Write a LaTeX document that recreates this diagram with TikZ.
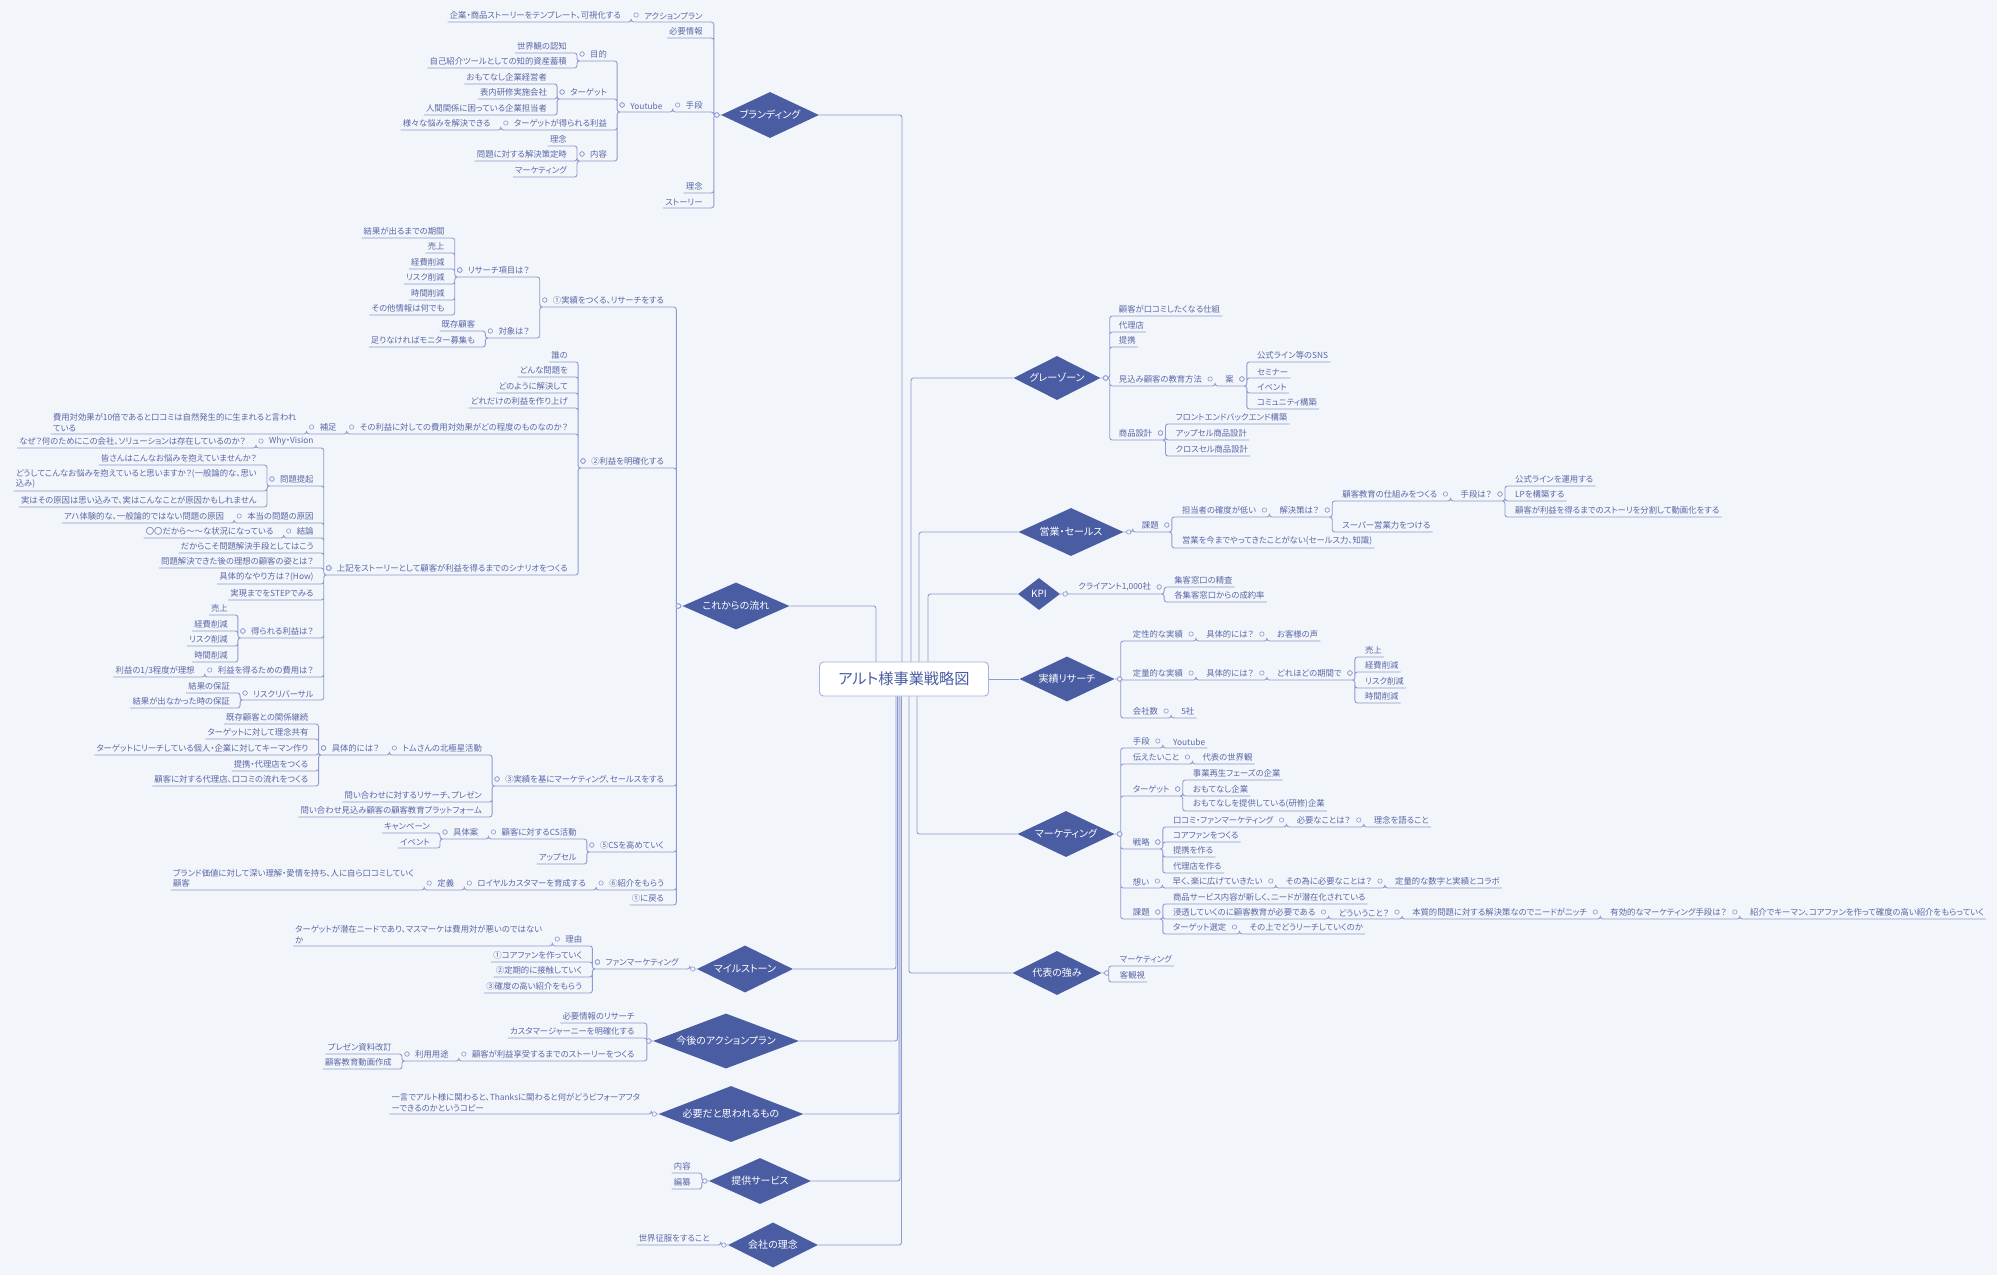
\documentclass[tikz,border=0pt]{standalone}
\usepackage{fontspec}
\setmainfont{Noto Sans CJK JP}[RawFeature={+palt}]
\usepackage{tikz}
\usetikzlibrary{calc,shapes.geometric}
\definecolor{linex}{HTML}{8E9BD2}
\definecolor{deepx}{HTML}{4A5DA3}
\definecolor{textx}{HTML}{5A68A8}
\definecolor{framex}{HTML}{A7B3DE}
\definecolor{softbg}{HTML}{F2F5FA}
\newcommand\nodefont{\fontsize{8.35}{10.3}\selectfont}
\newcommand\topicfont{\fontsize{10}{11.5}\selectfont}
\newcommand\headfont{\fontsize{15.2}{17}\selectfont}
\tikzset{
  ln/.style={draw=linex,line width=0.9pt,rounded corners=2.5pt},
  tx/.style={font=\nodefont,text=textx,inner xsep=2pt,inner ysep=2.3pt,align=left},
  lt/.style={tx,anchor=south east},
  rt/.style={tx,anchor=south west},
  lc/.style={lt,xshift=-19pt},
  rc/.style={rt,xshift=19pt},
  dlc/.style={lt,xshift=-16pt},
  drc/.style={rt,xshift=16pt},
  dm/.style 2 args={diamond,aspect=3,fill=deepx,text=white,font=\topicfont,inner sep=0pt,minimum width=#1,minimum height=#2},
  ttlbox/.style={draw=framex,line width=0.9pt,rounded corners=4pt,fill=white,text=deepx,font=\headfont,minimum width=169pt,minimum height=34pt},
  mk/.style={circle,draw=linex,fill=softbg,line width=0.6pt,inner sep=0pt,minimum size=4.4pt},
  lk/.style={to path={(\tikztostart) node[mk,xshift=-6pt,yshift=7pt]{} -- ++(-#1,0) |- (\tikztotarget)}},
  lk/.default=11,
  rk/.style={to path={(\tikztostart) node[mk,xshift=6pt,yshift=7pt]{} -- ++(#1,0) |- (\tikztotarget)}},
  rk/.default=11,
  dl/.style={to path={(\tikztostart) node[mk,xshift=-4pt]{} -- ++(-#1,0) |- (\tikztotarget)}},
  dl/.default=7,
  dr/.style={to path={(\tikztostart) node[mk,xshift=5pt]{} -- ++(#1,0) |- (\tikztotarget)}},
  dr/.default=9
}
\begin{document}
\begin{tikzpicture}[x=1pt,y=-1pt]
\fill[softbg] (0,0) rectangle (1997,1275);
\useasboundingbox (0,0) rectangle (1997,1275);

% centre and main topics
\node[ttlbox] (ttl) at (904,679) {アルト様事業戦略図};
\node[dm={98pt}{46pt}] (brand) at (770,115) {ブランディング};
\node[dm={107pt}{47pt}] (flow) at (736,606) {これからの流れ};
\node[dm={96pt}{47pt}] (mile) at (745,969) {マイルストーン};
\node[dm={146pt}{55pt}] (plan) at (726,1041) {今後のアクションプラン};
\node[dm={145pt}{56pt}] (need) at (731,1114) {必要だと思われるもの};
\node[dm={102pt}{46pt}] (serv) at (760,1181) {提供サービス};
\node[dm={90pt}{45pt}] (phil) at (773,1245) {会社の理念};
\node[dm={87pt}{44pt}] (gray) at (1057,378) {グレーゾーン};
\node[dm={105pt}{48pt}] (sales) at (1071,532) {営業・セールス};
\node[dm={42pt}{32pt}] (kpi) at (1039,594) {KPI};
\node[dm={95pt}{45pt}] (proof) at (1067,679) {実績リサーチ};
\node[dm={97pt}{46pt}] (mkt) at (1066,834) {マーケティング};
\node[dm={89pt}{44pt}] (rep) at (1057,973) {代表の強み};

\draw[ln] (brand.east) -| (ttl.north -| 902,0);
\draw[ln] (flow.east) -| (ttl.north -| 876,0);
\draw[ln] (gray.west) -| (ttl.north -| 911,0);
\draw[ln] (sales.west) -| (ttl.north -| 919,0);
\draw[ln] (kpi.west) -| (ttl.north -| 928,0);
\draw[ln] (ttl.east) -- (proof.west);
\draw[ln] (mkt.west) -| (ttl.south -| 917,0);
\draw[ln] (rep.west) -| (ttl.south -| 909,0);
\draw[ln] (mile.east) -| (ttl.south -| 896,0);
\draw[ln] (plan.east) -| (ttl.south -| 897.5,0);
\draw[ln] (need.east) -| (ttl.south -| 899,0);
\draw[ln] (serv.east) -| (ttl.south -| 900,0);
\draw[ln] (phil.east) -| (ttl.south -| 901.5,0);

% branding
\node[dlc] (bAct) at (brand.west |- 0,22) {アクションプラン};
\node[lc] (bActA) at (bAct.south west) {企業・商品ストーリーをテンプレート、可視化する};
\node[dlc] (bInfo) at (brand.west |- 0,38) {必要情報};
\node[dlc] (bWay) at (brand.west |- 0,112) {手段};
\node[lc] (bYt) at (bWay.south west) {Youtube};
\node[lc] (bAim) at (bYt.south west |- 0,61) {目的};
\node[lc] (bAimA) at (bAim.south west |- 0,53) {世界観の認知};
\node[lc] (bAimB) at (bAim.south west |- 0,68) {自己紹介ツールとしての知的資産蓄積};
\node[lc] (bTgt) at (bYt.south west |- 0,99) {ターゲット};
\node[lc] (bTgtA) at (bTgt.south west |- 0,84) {おもてなし企業経営者};
\node[lc] (bTgtB) at (bTgt.south west |- 0,99) {表内研修実施会社};
\node[lc] (bTgtC) at (bTgt.south west |- 0,115) {人間関係に困っている企業担当者};
\node[lc] (bGain) at (bYt.south west |- 0,130) {ターゲットが得られる利益};
\node[lc] (bGainA) at (bGain.south west) {様々な悩みを解決できる};
\node[lc] (bCnt) at (bYt.south west |- 0,161) {内容};
\node[lc] (bCntA) at (bCnt.south west |- 0,146) {理念};
\node[lc] (bCntB) at (bCnt.south west |- 0,161) {問題に対する解決策定時};
\node[lc] (bCntC) at (bCnt.south west |- 0,177) {マーケティング};
\node[dlc] (bIdea) at (brand.west |- 0,193) {理念};
\node[dlc] (bStory) at (brand.west |- 0,208) {ストーリー};
\draw[ln] (brand.west) to[dl] (bAct.south west) (brand.west) to[dl] (bInfo.south west)
  (brand.west) to[dl] (bWay.south west) (brand.west) to[dl] (bIdea.south west)
  (brand.west) to[dl] (bStory.south west);
\draw[ln] (bAct.south west) to[lk] (bActA.south west);
\draw[ln] (bWay.south west) to[lk] (bYt.south west);
\draw[ln] (bYt.south west) to[lk] (bAim.south west) (bYt.south west) to[lk] (bTgt.south west)
  (bYt.south west) to[lk] (bGain.south west) (bYt.south west) to[lk] (bCnt.south west);
\draw[ln] (bAim.south west) to[lk] (bAimA.south west) (bAim.south west) to[lk] (bAimB.south west);
\draw[ln] (bTgt.south west) to[lk] (bTgtA.south west) (bTgt.south west) to[lk] (bTgtB.south west)
  (bTgt.south west) to[lk] (bTgtC.south west);
\draw[ln] (bGain.south west) to[lk] (bGainA.south west);
\draw[ln] (bCnt.south west) to[lk] (bCntA.south west) (bCnt.south west) to[lk] (bCntB.south west)
  (bCnt.south west) to[lk] (bCntC.south west);

% flow
\node[dlc] (f1) at (flow.west |- 0,307) {①実績をつくる、リサーチをする};
\node[lc] (f1a) at (f1.south west |- 0,277) {リサーチ項目は？};
\node[lc] (f1a1) at (f1a.south west |- 0,238) {結果が出るまでの期間};
\node[lc] (f1a2) at (f1a.south west |- 0,253) {売上};
\node[lc] (f1a3) at (f1a.south west |- 0,269) {経費削減};
\node[lc] (f1a4) at (f1a.south west |- 0,284) {リスク削減};
\node[lc] (f1a5) at (f1a.south west |- 0,300) {時間削減};
\node[lc] (f1a6) at (f1a.south west |- 0,315) {その他情報は何でも};
\node[lc] (f1b) at (f1.south west |- 0,338) {対象は？};
\node[lc] (f1b1) at (f1b.south west |- 0,331) {既存顧客};
\node[lc] (f1b2) at (f1b.south west |- 0,347) {足りなければモニター募集も};
\node[dlc] (f2) at (flow.west |- 0,468) {②利益を明確化する};
\node[lc] (f2a) at (f2.south west |- 0,362) {誰の};
\node[lc] (f2b) at (f2.south west |- 0,377) {どんな問題を};
\node[lc] (f2c) at (f2.south west |- 0,393) {どのように解決して};
\node[lc] (f2d) at (f2.south west |- 0,408) {どれだけの利益を作り上げ};
\node[lc] (f2e) at (f2.south west |- 0,434) {その利益に対しての費用対効果がどの程度のものなのか？};
\node[lc] (f2e1) at (f2e.south west) {補足};
\node[lc] (f2e2) at (f2e1.south west) {費用対効果が10倍であると口コミは自然発生的に生まれると言われ\\ている};
\node[lc] (f2f) at (f2.south west |- 0,575) {上記をストーリーとして顧客が利益を得るまでのシナリオをつくる};
\node[lc] (s1) at (f2f.south west |- 0,448) {Why・Vision};
\node[lc] (s1a) at (s1.south west) {なぜ？何のためにこの会社、ソリューションは存在しているのか？};
\node[lc] (s2) at (f2f.south west |- 0,486) {問題提起};
\node[lc] (s2a) at (s2.south west |- 0,465) {皆さんはこんなお悩みを抱えていませんか？};
\node[lc] (s2b) at (s2.south west |- 0,491) {どうしてこんなお悩みを抱えていると思いますか？(一般論的な、思い\\込み)};
\node[lc] (s2c) at (s2.south west |- 0,507) {実はその原因は思い込みで、実はこんなことが原因かもしれません};
\node[lc] (s3) at (f2f.south west |- 0,523) {本当の問題の原因};
\node[lc] (s3a) at (s3.south west) {アハ体験的な、一般論的ではない問題の原因};
\node[lc] (s4) at (f2f.south west |- 0,538) {結論};
\node[lc] (s4a) at (s4.south west) {〇〇だから～～な状況になっている};
\node[lc] (s5) at (f2f.south west |- 0,553) {だからこそ問題解決手段としてはこう};
\node[lc] (s6) at (f2f.south west |- 0,568) {問題解決できた後の理想の顧客の姿とは？};
\node[lc] (s7) at (f2f.south west |- 0,584) {具体的なやり方は？(How)};
\node[lc] (s8) at (f2f.south west |- 0,600) {実現までをSTEPでみる};
\node[lc] (s9) at (f2f.south west |- 0,638) {得られる利益は？};
\node[lc] (s9a) at (s9.south west |- 0,615) {売上};
\node[lc] (s9b) at (s9.south west |- 0,631) {経費削減};
\node[lc] (s9c) at (s9.south west |- 0,646) {リスク削減};
\node[lc] (s9d) at (s9.south west |- 0,662) {時間削減};
\node[lc] (s10) at (f2f.south west |- 0,677) {利益を得るための費用は？};
\node[lc] (s10a) at (s10.south west) {利益の1/3程度が理想};
\node[lc] (s11) at (f2f.south west |- 0,700) {リスクリバーサル};
\node[lc] (s11a) at (s11.south west |- 0,693) {結果の保証};
\node[lc] (s11b) at (s11.south west |- 0,708) {結果が出なかった時の保証};
\node[dlc] (f3) at (flow.west |- 0,786) {③実績を基にマーケティング、セールスをする};
\node[lc] (f3a) at (f3.south west |- 0,755) {トムさんの北極星活動};
\node[lc] (f3b) at (f3a.south west) {具体的には？};
\node[lc] (f3b1) at (f3b.south west |- 0,724) {既存顧客との関係継続};
\node[lc] (f3b2) at (f3b.south west |- 0,739) {ターゲットに対して理念共有};
\node[lc] (f3b3) at (f3b.south west |- 0,755) {ターゲットにリーチしている個人・企業に対してキーマン作り};
\node[lc] (f3b4) at (f3b.south west |- 0,771) {提携・代理店をつくる};
\node[lc] (f3b5) at (f3b.south west |- 0,786) {顧客に対する代理店、口コミの流れをつくる};
\node[lc] (f3c) at (f3.south west |- 0,802) {問い合わせに対するリサーチ、プレゼン};
\node[lc] (f3d) at (f3.south west |- 0,817) {問い合わせ見込み顧客の顧客教育プラットフォーム};
\node[dlc] (f5) at (flow.west |- 0,852) {⑤CSを高めていく};
\node[lc] (f5a) at (f5.south west |- 0,839) {顧客に対するCS活動};
\node[lc] (f5b) at (f5a.south west) {具体案};
\node[lc] (f5b1) at (f5b.south west |- 0,833) {キャンペーン};
\node[lc] (f5b2) at (f5b.south west |- 0,848) {イベント};
\node[lc] (f5c) at (f5.south west |- 0,864) {アップセル};
\node[dlc] (f6) at (flow.west |- 0,890) {⑥紹介をもらう};
\node[lc] (f6a) at (f6.south west) {ロイヤルカスタマーを育成する};
\node[lc] (f6b) at (f6a.south west) {定義};
\node[lc] (f6c) at (f6b.south west) {ブランド価値に対して深い理解・愛情を持ち、人に自ら口コミしていく\\顧客};
\node[dlc] (f7) at (flow.west |- 0,905) {①に戻る};
\draw[ln] (flow.west) to[dl=6] (f1.south west) (flow.west) to[dl=6] (f2.south west)
  (flow.west) to[dl=6] (f3.south west) (flow.west) to[dl=6] (f5.south west)
  (flow.west) to[dl=6] (f6.south west) (flow.west) to[dl=6] (f7.south west);
\draw[ln] (f1.south west) to[lk] (f1a.south west) (f1.south west) to[lk] (f1b.south west);
\draw[ln] (f1a.south west) to[lk] (f1a1.south west) (f1a.south west) to[lk] (f1a2.south west)
  (f1a.south west) to[lk] (f1a3.south west) (f1a.south west) to[lk] (f1a4.south west)
  (f1a.south west) to[lk] (f1a5.south west) (f1a.south west) to[lk] (f1a6.south west);
\draw[ln] (f1b.south west) to[lk] (f1b1.south west) (f1b.south west) to[lk] (f1b2.south west);
\draw[ln] (f2.south west) to[lk] (f2a.south west) (f2.south west) to[lk] (f2b.south west)
  (f2.south west) to[lk] (f2c.south west) (f2.south west) to[lk] (f2d.south west)
  (f2.south west) to[lk] (f2e.south west) (f2.south west) to[lk] (f2f.south west);
\draw[ln] (f2e.south west) to[lk] (f2e1.south west);
\draw[ln] (f2e1.south west) to[lk] (f2e2.south west);
\draw[ln] (f2f.south west) to[lk] (s1.south west) (f2f.south west) to[lk] (s2.south west)
  (f2f.south west) to[lk] (s3.south west) (f2f.south west) to[lk] (s4.south west)
  (f2f.south west) to[lk] (s5.south west) (f2f.south west) to[lk] (s6.south west)
  (f2f.south west) to[lk] (s7.south west) (f2f.south west) to[lk] (s8.south west)
  (f2f.south west) to[lk] (s9.south west) (f2f.south west) to[lk] (s10.south west)
  (f2f.south west) to[lk] (s11.south west);
\draw[ln] (s1.south west) to[lk] (s1a.south west);
\draw[ln] (s2.south west) to[lk] (s2a.south west) (s2.south west) to[lk] (s2b.south west)
  (s2.south west) to[lk] (s2c.south west);
\draw[ln] (s3.south west) to[lk] (s3a.south west);
\draw[ln] (s4.south west) to[lk] (s4a.south west);
\draw[ln] (s9.south west) to[lk] (s9a.south west) (s9.south west) to[lk] (s9b.south west)
  (s9.south west) to[lk] (s9c.south west) (s9.south west) to[lk] (s9d.south west);
\draw[ln] (s10.south west) to[lk] (s10a.south west);
\draw[ln] (s11.south west) to[lk] (s11a.south west) (s11.south west) to[lk] (s11b.south west);
\draw[ln] (f3.south west) to[lk] (f3a.south west) (f3.south west) to[lk] (f3c.south west)
  (f3.south west) to[lk] (f3d.south west);
\draw[ln] (f3a.south west) to[lk] (f3b.south west);
\draw[ln] (f3b.south west) to[lk] (f3b1.south west) (f3b.south west) to[lk] (f3b2.south west)
  (f3b.south west) to[lk] (f3b3.south west) (f3b.south west) to[lk] (f3b4.south west)
  (f3b.south west) to[lk] (f3b5.south west);
\draw[ln] (f5.south west) to[lk] (f5a.south west) (f5.south west) to[lk] (f5c.south west);
\draw[ln] (f5a.south west) to[lk] (f5b.south west);
\draw[ln] (f5b.south west) to[lk] (f5b1.south west) (f5b.south west) to[lk] (f5b2.south west);
\draw[ln] (f6.south west) to[lk] (f6a.south west);
\draw[ln] (f6a.south west) to[lk] (f6b.south west);
\draw[ln] (f6b.south west) to[lk] (f6c.south west);

% milestone, action plan, needs, service, philosophy
\node[dlc] (m1) at (mile.west) {ファンマーケティング};
\node[lc] (m1a) at (m1.south west |- 0,946) {理由};
\node[lc] (m1a1) at (m1a.south west) {ターゲットが潜在ニードであり、マスマーケは費用対が悪いのではない\\か};
\node[lc] (m1b) at (m1.south west |- 0,962) {①コアファンを作っていく};
\node[lc] (m1c) at (m1.south west |- 0,977) {②定期的に接触していく};
\node[lc] (m1d) at (m1.south west |- 0,993) {③確度の高い紹介をもらう};
\draw[ln] (mile.west) to[dl] (m1.south west);
\draw[ln] (m1.south west) to[lk] (m1a.south west) (m1.south west) to[lk] (m1b.south west)
  (m1.south west) to[lk] (m1c.south west) (m1.south west) to[lk] (m1d.south west);
\draw[ln] (m1a.south west) to[lk] (m1a1.south west);

\node[dlc] (p1) at (plan.west |- 0,1023) {必要情報のリサーチ};
\node[dlc] (p2) at (plan.west |- 0,1038) {カスタマージャーニーを明確化する};
\node[dlc] (p3) at (plan.west |- 0,1061) {顧客が利益享受するまでのストーリーをつくる};
\node[lc] (p3a) at (p3.south west) {利用用途};
\node[lc] (p3a1) at (p3a.south west |- 0,1054) {プレゼン資料改訂};
\node[lc] (p3a2) at (p3a.south west |- 0,1069) {顧客教育動画作成};
\draw[ln] (plan.west) to[dl=6] (p1.south west) (plan.west) to[dl=6] (p2.south west)
  (plan.west) to[dl=6] (p3.south west);
\draw[ln] (p3.south west) to[lk] (p3a.south west);
\draw[ln] (p3a.south west) to[lk] (p3a1.south west) (p3a.south west) to[lk] (p3a2.south west);

\node[dlc] (n1) at (need.west) {一言でアルト様に関わると、Thanksに関わると何がどうビフォーアフタ\\ーできるのかというコピー};
\draw[ln] (need.west) to[dl] (n1.south west);

\node[dlc] (v1) at (serv.west |- 0,1173) {内容};
\node[dlc] (v2) at (serv.west |- 0,1189) {編纂};
\draw[ln] (serv.west) to[dl] (v1.south west) (serv.west) to[dl] (v2.south west);

\node[dlc] (c1) at (phil.west) {世界征服をすること};
\draw[ln] (phil.west) to[dl] (c1.south west);

% grey zone
\node[drc] (g1) at (gray.east |- 0,316) {顧客が口コミしたくなる仕組};
\node[drc] (g2) at (gray.east |- 0,332) {代理店};
\node[drc] (g3) at (gray.east |- 0,347) {提携};
\node[drc] (g4) at (gray.east |- 0,386) {見込み顧客の教育方法};
\node[rc] (g4a) at (g4.south east) {案};
\node[rc] (g4a1) at (g4a.south east |- 0,362) {公式ライン等のSNS};
\node[rc] (g4a2) at (g4a.south east |- 0,378) {セミナー};
\node[rc] (g4a3) at (g4a.south east |- 0,393) {イベント};
\node[rc] (g4a4) at (g4a.south east |- 0,409) {コミュニティ構築};
\node[drc] (g5) at (gray.east |- 0,440) {商品設計};
\node[rc] (g5a) at (g5.south east |- 0,424) {フロントエンドバックエンド構築};
\node[rc] (g5b) at (g5.south east |- 0,440) {アップセル商品設計};
\node[rc] (g5c) at (g5.south east |- 0,456) {クロスセル商品設計};
\draw[ln] (gray.east) to[dr] (g1.south east) (gray.east) to[dr] (g2.south east)
  (gray.east) to[dr] (g3.south east) (gray.east) to[dr] (g4.south east)
  (gray.east) to[dr] (g5.south east);
\draw[ln] (g4.south east) to[rk] (g4a.south east);
\draw[ln] (g4a.south east) to[rk] (g4a1.south east) (g4a.south east) to[rk] (g4a2.south east)
  (g4a.south east) to[rk] (g4a3.south east) (g4a.south east) to[rk] (g4a4.south east);
\draw[ln] (g5.south east) to[rk] (g5a.south east) (g5.south east) to[rk] (g5b.south east)
  (g5.south east) to[rk] (g5c.south east);

% sales
\node[drc] (e1) at (sales.east) {課題};
\node[rc] (e1a) at (e1.south east |- 0,517) {担当者の確度が低い};
\node[rc] (e1a1) at (e1a.south east) {解決策は？};
\node[rc] (e1a1a) at (e1a1.south east |- 0,501) {顧客教育の仕組みをつくる};
\node[rc] (e1a1b) at (e1a1a.south east) {手段は？};
\node[rc] (e1a1b1) at (e1a1b.south east |- 0,486) {公式ラインを運用する};
\node[rc] (e1a1b2) at (e1a1b.south east |- 0,501) {LPを構築する};
\node[rc] (e1a1b3) at (e1a1b.south east |- 0,517) {顧客が利益を得るまでのストーリを分割して動画化をする};
\node[rc] (e1a1c) at (e1a1.south east |- 0,532) {スーパー営業力をつける};
\node[rc] (e1b) at (e1.south east |- 0,548) {営業を今までやってきたことがない(セールス力、知識)};
\draw[ln] (sales.east) to[dr] (e1.south east);
\draw[ln] (e1.south east) to[rk] (e1a.south east) (e1.south east) to[rk] (e1b.south east);
\draw[ln] (e1a.south east) to[rk] (e1a1.south east);
\draw[ln] (e1a1.south east) to[rk] (e1a1a.south east) (e1a1.south east) to[rk] (e1a1c.south east);
\draw[ln] (e1a1a.south east) to[rk] (e1a1b.south east);
\draw[ln] (e1a1b.south east) to[rk] (e1a1b1.south east) (e1a1b.south east) to[rk] (e1a1b2.south east)
  (e1a1b.south east) to[rk] (e1a1b3.south east);

% KPI
\node[drc] (q1) at (kpi.east) {クライアント1,000社};
\node[rc] (q1a) at (q1.south east |- 0,587) {集客窓口の精査};
\node[rc] (q1b) at (q1.south east |- 0,602) {各集客窓口からの成約率};
\draw[ln] (kpi.east) to[dr=6] (q1.south east);
\draw[ln] (q1.south east) to[rk] (q1a.south east) (q1.south east) to[rk] (q1b.south east);

% research
\node[drc] (j1) at (proof.east |- 0,641) {定性的な実績};
\node[rc] (j1a) at (j1.south east) {具体的には？};
\node[rc] (j1b) at (j1a.south east) {お客様の声};
\node[drc] (j2) at (proof.east |- 0,680) {定量的な実績};
\node[rc] (j2a) at (j2.south east) {具体的には？};
\node[rc] (j2b) at (j2a.south east) {どれほどの期間で};
\node[rc] (j2b1) at (j2b.south east |- 0,657) {売上};
\node[rc] (j2b2) at (j2b.south east |- 0,672) {経費削減};
\node[rc] (j2b3) at (j2b.south east |- 0,688) {リスク削減};
\node[rc] (j2b4) at (j2b.south east |- 0,703) {時間削減};
\node[drc] (j3) at (proof.east |- 0,718) {会社数};
\node[rc] (j3a) at (j3.south east) {5社};
\draw[ln] (proof.east) to[dr=6] (j1.south east) (proof.east) to[dr=6] (j2.south east)
  (proof.east) to[dr=6] (j3.south east);
\draw[ln] (j1.south east) to[rk] (j1a.south east);
\draw[ln] (j1a.south east) to[rk] (j1b.south east);
\draw[ln] (j2.south east) to[rk] (j2a.south east);
\draw[ln] (j2a.south east) to[rk] (j2b.south east);
\draw[ln] (j2b.south east) to[rk] (j2b1.south east) (j2b.south east) to[rk] (j2b2.south east)
  (j2b.south east) to[rk] (j2b3.south east) (j2b.south east) to[rk] (j2b4.south east);
\draw[ln] (j3.south east) to[rk] (j3a.south east);

% marketing
\node[drc] (t1) at (mkt.east |- 0,748) {手段};
\node[rc] (t1a) at (t1.south east) {Youtube};
\node[drc] (t2) at (mkt.east |- 0,764) {伝えたいこと};
\node[rc] (t2a) at (t2.south east) {代表の世界観};
\node[drc] (t3) at (mkt.east |- 0,796) {ターゲット};
\node[rc] (t3a) at (t3.south east |- 0,780) {事業再生フェーズの企業};
\node[rc] (t3b) at (t3.south east |- 0,796) {おもてなし企業};
\node[rc] (t3c) at (t3.south east |- 0,811) {おもてなしを提供している(研修)企業};
\node[drc] (t4) at (mkt.east |- 0,849) {戦略};
\node[rc] (t4a) at (t4.south east |- 0,827) {口コミ・ファンマーケティング};
\node[rc] (t4a1) at (t4a.south east) {必要なことは？};
\node[rc] (t4a2) at (t4a1.south east) {理念を語ること};
\node[rc] (t4b) at (t4.south east |- 0,842) {コアファンをつくる};
\node[rc] (t4c) at (t4.south east |- 0,857) {提携を作る};
\node[rc] (t4d) at (t4.south east |- 0,873) {代理店を作る};
\node[drc] (t5) at (mkt.east |- 0,888) {想い};
\node[rc] (t5a) at (t5.south east) {早く、楽に広げていきたい};
\node[rc] (t5b) at (t5a.south east) {その為に必要なことは？};
\node[rc] (t5c) at (t5b.south east) {定量的な数字と実績とコラボ};
\node[drc] (t6) at (mkt.east |- 0,919) {課題};
\node[rc] (t6a) at (t6.south east |- 0,904) {商品サービス内容が新しく、ニードが潜在化されている};
\node[rc] (t6b) at (t6.south east |- 0,919) {浸透していくのに顧客教育が必要である};
\node[rc] (t6b1) at (t6b.south east) {どういうこと？};
\node[rc] (t6b2) at (t6b1.south east) {本質的問題に対する解決策なのでニードがニッチ};
\node[rc] (t6b3) at (t6b2.south east) {有効的なマーケティング手段は？};
\node[rc] (t6b4) at (t6b3.south east) {紹介でキーマン、コアファンを作って確度の高い紹介をもらっていく};
\node[rc] (t6c) at (t6.south east |- 0,934) {ターゲット選定};
\node[rc] (t6c1) at (t6c.south east) {その上でどうリーチしていくのか};
\draw[ln] (mkt.east) to[dr=6] (t1.south east) (mkt.east) to[dr=6] (t2.south east)
  (mkt.east) to[dr=6] (t3.south east) (mkt.east) to[dr=6] (t4.south east)
  (mkt.east) to[dr=6] (t5.south east) (mkt.east) to[dr=6] (t6.south east);
\draw[ln] (t1.south east) to[rk] (t1a.south east);
\draw[ln] (t2.south east) to[rk] (t2a.south east);
\draw[ln] (t3.south east) to[rk] (t3a.south east) (t3.south east) to[rk] (t3b.south east)
  (t3.south east) to[rk] (t3c.south east);
\draw[ln] (t4.south east) to[rk] (t4a.south east) (t4.south east) to[rk] (t4b.south east)
  (t4.south east) to[rk] (t4c.south east) (t4.south east) to[rk] (t4d.south east);
\draw[ln] (t4a.south east) to[rk] (t4a1.south east);
\draw[ln] (t4a1.south east) to[rk] (t4a2.south east);
\draw[ln] (t5.south east) to[rk] (t5a.south east);
\draw[ln] (t5a.south east) to[rk] (t5b.south east);
\draw[ln] (t5b.south east) to[rk] (t5c.south east);
\draw[ln] (t6.south east) to[rk] (t6a.south east) (t6.south east) to[rk] (t6b.south east)
  (t6.south east) to[rk] (t6c.south east);
\draw[ln] (t6b.south east) to[rk] (t6b1.south east);
\draw[ln] (t6b1.south east) to[rk] (t6b2.south east);
\draw[ln] (t6b2.south east) to[rk] (t6b3.south east);
\draw[ln] (t6b3.south east) to[rk] (t6b4.south east);
\draw[ln] (t6c.south east) to[rk] (t6c1.south east);

% strengths
\node[drc] (r1) at (rep.east |- 0,966) {マーケティング};
\node[drc] (r2) at (rep.east |- 0,982) {客観視};
\draw[ln] (rep.east) to[dr=7] (r1.south east) (rep.east) to[dr=7] (r2.south east);
\end{tikzpicture}
\end{document}
